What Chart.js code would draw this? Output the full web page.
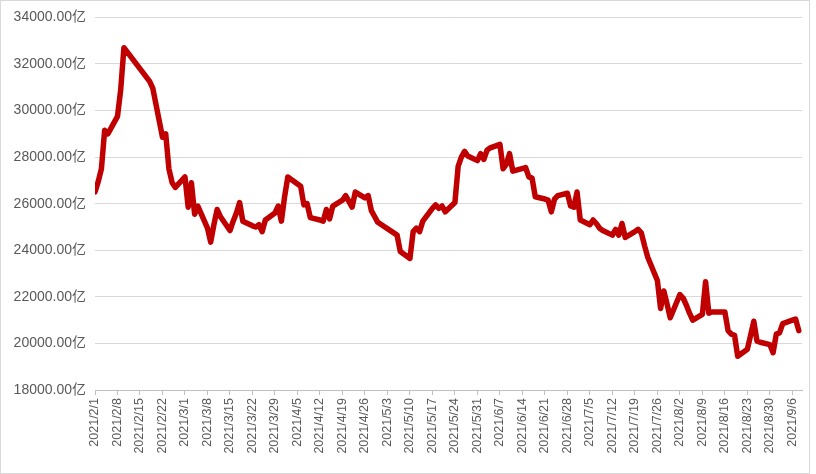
<!DOCTYPE html>
<html>
<head>
<meta charset="utf-8">
<script src="https://cdn.jsdelivr.net/npm/chart.js@4.4.1/dist/chart.umd.min.js"></script>
<style>
  body { margin: 0; background: #fff; }
  #frame { position: absolute; left: 0; top: 0; width: 808px; height: 472px; border: 1px solid #d9d9d9; }
  #wrap { position: absolute; left: 0; top: 0; width: 816px; height: 474px; }
</style>
</head>
<body>
<div id="frame"></div>
<div id="wrap"><canvas id="lineChart" width="816" height="474"></canvas></div>
<script>
// Trading days and values (亿)
var tradeDates = [
  '2021/2/1','2021/2/2','2021/2/3','2021/2/4','2021/2/5','2021/2/8','2021/2/9','2021/2/10',
  '2021/2/18','2021/2/19','2021/2/22','2021/2/23','2021/2/24','2021/2/25','2021/2/26',
  '2021/3/1','2021/3/2','2021/3/3','2021/3/4','2021/3/5','2021/3/8','2021/3/9','2021/3/10',
  '2021/3/11','2021/3/12','2021/3/15','2021/3/16','2021/3/17','2021/3/18','2021/3/19',
  '2021/3/22','2021/3/23','2021/3/24','2021/3/25','2021/3/26','2021/3/29','2021/3/30',
  '2021/3/31','2021/4/1','2021/4/2','2021/4/6','2021/4/7','2021/4/8','2021/4/9',
  '2021/4/12','2021/4/13','2021/4/14','2021/4/15','2021/4/16','2021/4/19','2021/4/20',
  '2021/4/21','2021/4/22','2021/4/23','2021/4/26','2021/4/27','2021/4/28','2021/4/29',
  '2021/4/30','2021/5/6','2021/5/7','2021/5/10','2021/5/11','2021/5/12','2021/5/13',
  '2021/5/14','2021/5/17','2021/5/18','2021/5/19','2021/5/20','2021/5/21','2021/5/24',
  '2021/5/25','2021/5/26','2021/5/27','2021/5/28','2021/5/31','2021/6/1','2021/6/2',
  '2021/6/3','2021/6/4','2021/6/7','2021/6/8','2021/6/9','2021/6/10','2021/6/11',
  '2021/6/15','2021/6/16','2021/6/17','2021/6/18','2021/6/21','2021/6/22','2021/6/23',
  '2021/6/24','2021/6/25','2021/6/28','2021/6/29','2021/6/30','2021/7/1','2021/7/2',
  '2021/7/5','2021/7/6','2021/7/7','2021/7/8','2021/7/9','2021/7/12','2021/7/13',
  '2021/7/14','2021/7/15','2021/7/16','2021/7/19','2021/7/20','2021/7/21','2021/7/22',
  '2021/7/23','2021/7/26','2021/7/27','2021/7/28','2021/7/29','2021/7/30','2021/8/2',
  '2021/8/3','2021/8/4','2021/8/5','2021/8/6','2021/8/9','2021/8/10','2021/8/11',
  '2021/8/12','2021/8/13','2021/8/16','2021/8/17','2021/8/18','2021/8/19','2021/8/20',
  '2021/8/23','2021/8/24','2021/8/25','2021/8/26','2021/8/27','2021/8/30','2021/8/31',
  '2021/9/1','2021/9/2','2021/9/3','2021/9/6','2021/9/7','2021/9/8'
];
var tradeValues = [
  26500, 26950, 27500, 29150, 29000, 29750, 30900, 32700,
  31250, 30950, 28850, 29000, 27500, 26900, 26700,
  27150, 25850, 26900, 25550, 25900, 24950, 24350, 25100,
  25750, 25450, 24850, 25250, 25600, 26050, 25250,
  25050, 25000, 25100, 24800, 25300, 25600, 25900,
  25250, 26300, 27150, 26750, 25950, 26000, 25400,
  25300, 25250, 25750, 25350, 25900, 26150, 26350,
  26100, 25850, 26500, 26250, 26350, 25700, 25450,
  25200, 24650, 23950, 23650, 24800, 24950, 24800,
  25250, 25800, 25950, 25800, 25900, 25650, 26050,
  27600, 28000, 28250, 28050, 27850, 28150, 27900,
  28300, 28400, 28550, 27500, 27700, 28150, 27400,
  27550, 27150, 27100, 26300, 26200, 26150, 25650,
  26200, 26350, 26450, 25900, 25850, 26500, 25300,
  25100, 25300, 25150, 24950, 24850, 24650, 24900,
  24650, 25150, 24550, 24800, 24900, 24750, 24200,
  23700, 22700, 21500, 22250, 21700, 21100, 22100,
  21950, 21650, 21300, 21000, 21250, 22650, 21300,
  21350, 21350, 21350, 20550, 20400, 20350, 19450,
  19750, 20350, 20950, 20100, 20050, 19950, 19600,
  20400, 20450, 20850, 21000, 21050, 20550
];
var xTickLabels = [
  '2021/2/1','2021/2/8','2021/2/15','2021/2/22','2021/3/1','2021/3/8','2021/3/15','2021/3/22',
  '2021/3/29','2021/4/5','2021/4/12','2021/4/19','2021/4/26','2021/5/3','2021/5/10','2021/5/17',
  '2021/5/24','2021/5/31','2021/6/7','2021/6/14','2021/6/21','2021/6/28','2021/7/5','2021/7/12',
  '2021/7/19','2021/7/26','2021/8/2','2021/8/9','2021/8/16','2021/8/23','2021/8/30','2021/9/6'
];
var yMin = 18000, yMax = 34000, yStep = 2000;

// day offset from 2021/2/1
function dayOf(s) {
  var p = s.split('/');
  return (Date.UTC(+p[0], +p[1] - 1, +p[2]) - Date.UTC(2021, 1, 1)) / 86400000;
}
var labelByDay = {};
xTickLabels.forEach(function (s) { labelByDay[dayOf(s)] = s; });

var points = tradeDates.map(function (d, i) { return { x: dayOf(d), y: tradeValues[i] }; });

var gray = '#595959';
const ctx = document.getElementById('lineChart').getContext('2d');
new Chart(ctx, {
  type: 'line',
  data: {
    datasets: [{
      data: points,
      borderColor: '#c00000',
      borderWidth: 5.5,
      borderJoinStyle: 'round',
      borderCapStyle: 'round',
      pointRadius: 0,
      tension: 0,
      fill: false
    }]
  },
  options: {
    responsive: false,
    animation: false,
    layout: { padding: { top: 16, right: 14, left: 0, bottom: 0 } },
    plugins: { legend: { display: false }, tooltip: { enabled: false } },
    scales: {
      x: {
        type: 'linear',
        min: 0,
        max: 220,
        afterBuildTicks: function (scale) {
          scale.ticks = xTickLabels.map(function (s) { return { value: dayOf(s) }; });
        },
        afterFit: function (scale) { scale.height = 84; },
        ticks: {
          autoSkip: false,
          minRotation: 90,
          maxRotation: 90,
          padding: 3,
          color: gray,
          font: { family: '"Liberation Sans", "Noto Sans CJK SC", sans-serif', size: 12.5 },
          callback: function (v) { return labelByDay[v] || ''; }
        },
        grid: { drawOnChartArea: false, drawTicks: true, tickLength: 5, color: '#bfbfbf' },
        border: { display: true, color: '#bfbfbf', width: 1 }
      },
      y: {
        min: yMin,
        max: yMax,
        afterFit: function (scale) { scale.width = 95; },
        ticks: {
          stepSize: yStep,
          padding: 9,
          color: gray,
          font: { family: '"Liberation Sans", "Noto Sans CJK SC", sans-serif', size: 14 },
          callback: function (v) { return v.toFixed(2) + '亿'; }
        },
        grid: { drawTicks: false, color: '#d9d9d9', lineWidth: 1 },
        border: { display: false }
      }
    }
  }
});
</script>
</body>
</html>
